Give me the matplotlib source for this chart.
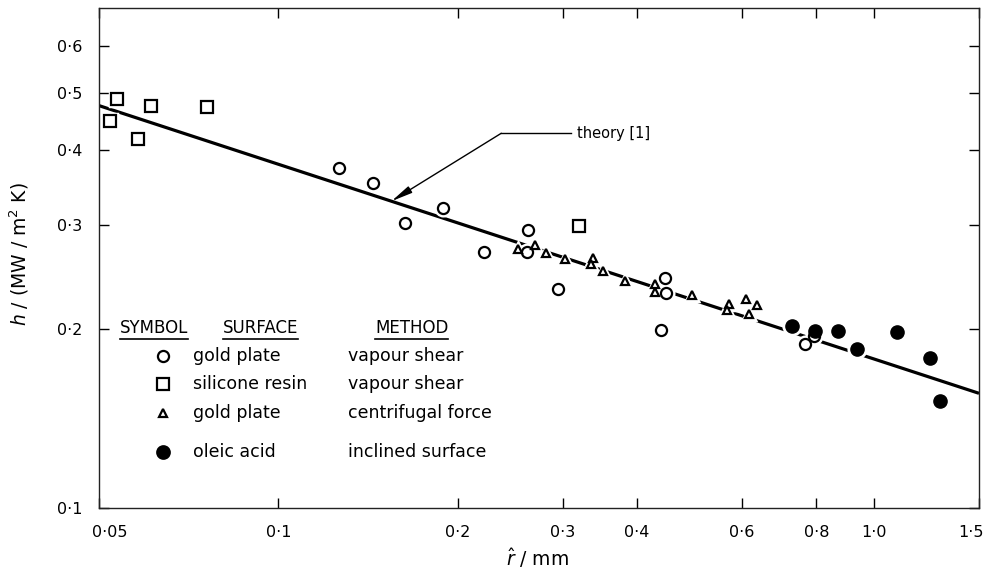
import numpy as np
import matplotlib.pyplot as plt
from matplotlib.ticker import FixedLocator, FixedFormatter, NullLocator
from matplotlib.transforms import ScaledTranslation

plt.rcParams['font.family'] = ['DejaVu Sans']
plt.rcParams['mathtext.fontset'] = 'dejavusans'

# gold plate, vapour shear (open circles)
gold_vs_r = [0.1265, 0.1443, 0.1634, 0.1892, 0.2216, 0.2627, 0.2617, 0.2949,
             0.446, 0.448, 0.439, 0.766, 0.793]
gold_vs_h = [0.373, 0.352, 0.302, 0.320, 0.270, 0.294, 0.270, 0.234,
             0.244, 0.230, 0.1997, 0.189, 0.195]
# silicone resin, vapour shear (open squares)
resin_r = [0.0535, 0.0521, 0.0582, 0.0612, 0.0760, 0.320]
resin_h = [0.489, 0.449, 0.418, 0.476, 0.473, 0.2985]
# gold plate, centrifugal force (triangles)
cent_r = [0.2527, 0.2699, 0.2818, 0.3031, 0.3378, 0.3352, 0.3510, 0.3822,
          0.4291, 0.4291, 0.4951, 0.5714, 0.567, 0.610, 0.6366, 0.617]
cent_h = [0.273, 0.277, 0.269, 0.263, 0.264, 0.258, 0.251, 0.2413,
          0.2385, 0.2313, 0.2286, 0.2208, 0.2157, 0.2250, 0.2199, 0.2124]
# oleic acid, inclined surface (filled circles)
oleic_r = [0.729, 0.796, 0.870, 0.937, 1.093, 1.242, 1.291]
oleic_h = [0.2028, 0.199, 0.199, 0.1849, 0.198, 0.1792, 0.1512]

# theory [1] line end points
theory_r = [0.05, 1.5]
theory_h = [0.476, 0.156]

x_ticks = [0.05, 0.1, 0.2, 0.3, 0.4, 0.6, 0.8, 1.0, 1.5]
x_labels = ['0·05', '0·1', '0·2', '0·3', '0·4', '0·6', '0·8', '1·0', '1·5']
y_ticks = [0.1, 0.2, 0.3, 0.4, 0.5, 0.6]
y_labels = ['0·1', '0·2', '0·3', '0·4', '0·5', '0·6']

legend_marker = ['o', 's', '^', 'o']
legend_surface = ['gold plate', 'silicone resin', 'gold plate', 'oleic acid']
legend_method = ['vapour shear', 'vapour shear', 'centrifugal force', 'inclined surface']

W, H = 989, 569
fig = plt.figure(figsize=(W / 100, H / 100), dpi=100)
ax = fig.add_axes([99 / W, 61 / H, 880 / W, 500 / H])


def px(x, y):
    return x / W, 1 - y / H


ax.set_xscale('log')
ax.set_yscale('log')
ax.set_xlim(0.05, 1.5)
ax.set_ylim(0.1, 0.695)

ax.plot(theory_r, theory_h, color='black', lw=2.3, solid_capstyle='butt', zorder=2)

series = [
    (gold_vs_r, gold_vs_h, dict(marker='o', ms=8, mfc='white', mec='black', mew=1.6)),
    (resin_r, resin_h, dict(marker='s', ms=8, mfc='white', mec='black', mew=1.6)),
    (cent_r, cent_h, dict(marker='^', ms=6, mfc='white', mec='black', mew=1.6)),
    (oleic_r, oleic_h, dict(marker='o', ms=9.5, mfc='black', mec='black', mew=1)),
]
# white halo so the theory line breaks around the symbols
for r, h, st in series:
    ax.plot(r, h, ls='none', marker=st['marker'], ms=st['ms'] + 2.5,
            mfc='white', mec='white', mew=2.5, zorder=3)
for r, h, st in series:
    ax.plot(r, h, ls='none', zorder=4, **st)

# arrow for theory label
tip_r = 0.1548
tip_h = np.interp(np.log10(tip_r), np.log10(theory_r), np.log10(theory_h))
ax.annotate('', xy=(tip_r, 10 ** tip_h), xytext=(0.2367, 0.4276),
            arrowprops=dict(arrowstyle='-|>,head_length=0.8,head_width=0.14',
                            color='black', lw=1.0,
                            mutation_scale=16, shrinkA=0, shrinkB=0))
ax.plot([0.2367, 0.310], [0.4276, 0.4276], color='black', lw=1.0)
ax.text(0.3173, 0.4276, 'theory [1]', fontsize=10.5, va='center', ha='left')

for side in ['left', 'right', 'top', 'bottom']:
    ax.spines[side].set_linewidth(1.0)
    ax.spines[side].set_color('#222222')

ax.xaxis.set_major_locator(FixedLocator(x_ticks))
ax.xaxis.set_major_formatter(FixedFormatter(x_labels))
ax.yaxis.set_major_locator(FixedLocator(y_ticks))
ax.yaxis.set_major_formatter(FixedFormatter(y_labels))
ax.xaxis.set_minor_locator(NullLocator())
ax.yaxis.set_minor_locator(NullLocator())
ax.tick_params(which='major', direction='in', length=7, width=1.0,
               top=True, right=True, labelsize=11.5)
ax.tick_params(axis='x', pad=12)
ax.tick_params(axis='y', pad=12)

# nudge the edge tick labels inwards, as in the original
xl = ax.get_xticklabels()
xl[0].set_transform(xl[0].get_transform() + ScaledTranslation(8 / 72, 0, fig.dpi_scale_trans))
xl[-1].set_transform(xl[-1].get_transform() + ScaledTranslation(-6 / 72, 0, fig.dpi_scale_trans))

fig.text(*px(19, 254), '$h$ / (MW / m$^2$ K)', rotation=90, fontsize=13.5,
         ha='center', va='center')
fig.text(*px(537, 558), r'$\hat{r}$ / mm', fontsize=13.5, ha='center', va='center')

# legend block
headers = ['SYMBOL', 'SURFACE', 'METHOD']
header_x = [120, 223, 375]
head_txt = [fig.text(*px(hx, 328), t, fontsize=12, ha='left', va='center')
            for hx, t in zip(header_x, headers)]
row_y = [356, 384, 413, 452]
for i, yy in enumerate(row_y):
    filled = i == 3
    mk = legend_marker[i]
    ax.plot(*px(163, yy), transform=fig.transFigure, clip_on=False, ls='none',
            marker=mk, ms=9 if filled else (6 if mk == '^' else 8),
            mfc='black' if filled else 'white', mec='black', mew=1.6)
    fig.text(*px(193, yy), legend_surface[i], fontsize=12.5, ha='left', va='center')
    fig.text(*px(348, yy), legend_method[i], fontsize=12.5, ha='left', va='center')

fig.canvas.draw()
inv = fig.transFigure.inverted()
for t in head_txt:
    bb = t.get_window_extent()
    (x0, y0), (x1, _) = inv.transform([[bb.x0, bb.y0], [bb.x1, bb.y1]])
    fig.add_artist(plt.Line2D([x0, x1], [y0 - 0.004, y0 - 0.004],
                              transform=fig.transFigure, color='black', lw=1.2))

fig.savefig('out.png', dpi=100)
